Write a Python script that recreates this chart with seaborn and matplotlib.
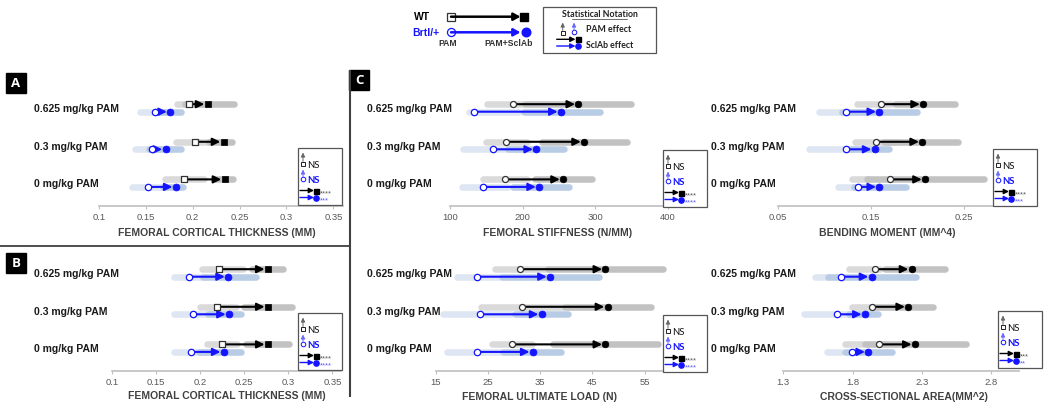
import numpy as np
import pandas as pd
import matplotlib
matplotlib.use("Agg")
import matplotlib.pyplot as plt
import seaborn as sns
from matplotlib import transforms
from matplotlib.patches import Rectangle

sns.set_theme(style="white")
plt.rcParams['font.family'] = ['Liberation Sans', 'DejaVu Sans']

# ---------------- data ----------------
doses = ["0.625 mg/kg PAM", "0.3 mg/kg PAM", "0 mg/kg PAM"]

# means per dose: [PAM, PAM+SclAb]; ranges per dose: [PAM lo, PAM hi, SclAb lo, SclAb hi]
A_wt_mean = [[0.196, 0.216], [0.202, 0.233], [0.191, 0.234]]
A_brtl_mean = [[0.160, 0.176], [0.157, 0.171], [0.152, 0.182]]
A_wt_rng = [[0.180, 0.214, 0.188, 0.248], [0.179, 0.226, 0.214, 0.245], [0.167, 0.215, 0.219, 0.246]]
A_brtl_rng = [[0.140, 0.180, 0.160, 0.191], [0.135, 0.180, 0.150, 0.191], [0.132, 0.172, 0.165, 0.193]]

B_wt_mean = [[0.221, 0.277], [0.219, 0.277], [0.225, 0.277]]
B_brtl_mean = [[0.188, 0.232], [0.192, 0.233], [0.190, 0.227]]
B_wt_rng = [[0.199, 0.252, 0.255, 0.298], [0.196, 0.244, 0.246, 0.308], [0.204, 0.246, 0.249, 0.304]]
B_brtl_rng = [[0.167, 0.212, 0.200, 0.267], [0.167, 0.215, 0.205, 0.250], [0.167, 0.210, 0.195, 0.250]]

S_wt_mean = [[187, 277], [177, 285], [176, 256]]
S_brtl_mean = [[133, 253], [159, 219], [145, 223]]
S_wt_rng = [[146, 205, 199, 354], [145, 210, 222, 348], [141, 210, 213, 300]]
S_brtl_rng = [[122, 200, 197, 311], [114, 200, 176, 261], [112, 185, 183, 268]]

M_wt_mean = [[0.161, 0.206], [0.155, 0.205], [0.170, 0.208]]
M_brtl_mean = [[0.123, 0.159], [0.123, 0.154], [0.136, 0.159]]
M_wt_rng = [[0.131, 0.175, 0.172, 0.244], [0.129, 0.180, 0.160, 0.247], [0.126, 0.150, 0.142, 0.275]]
M_brtl_rng = [[0.091, 0.130, 0.115, 0.203], [0.080, 0.140, 0.120, 0.173], [0.111, 0.135, 0.128, 0.191]]

U_wt_mean = [[31.1, 47.5], [31.5, 47.9], [29.7, 47.5]]
U_brtl_mean = [[23.0, 36.9], [23.4, 35.3], [22.9, 33.6]]
U_wt_rng = [[25.7, 37.0, 35.9, 59.1], [23.0, 40.0, 39.1, 56.8], [25.1, 34.0, 36.8, 58.1]]
U_brtl_rng = [[18.4, 28.0, 27.0, 46.8], [15.7, 30.0, 29.5, 41.0], [16.6, 28.0, 27.3, 39.6]]

C_wt_mean = [[1.962, 2.227], [1.943, 2.203], [1.991, 2.251]]
C_brtl_mean = [[1.714, 1.938], [1.688, 1.890], [1.794, 1.914]]
C_wt_rng = [[1.750, 2.020, 2.010, 2.492], [1.770, 1.960, 1.926, 2.408], [1.721, 1.900, 1.866, 2.644]]
C_brtl_rng = [[1.505, 1.650, 1.601, 2.280], [1.428, 1.850, 1.750, 2.010], [1.589, 1.740, 1.721, 2.107]]

A_ticks = [0.1, 0.15, 0.2, 0.25, 0.3, 0.35]
S_ticks = [100, 200, 300, 400]
M_ticks = [0.05, 0.15, 0.25]
U_ticks = [15, 25, 35, 45, 55]
C_ticks = [1.3, 1.8, 2.3, 2.8]

# ---------------- layout / style ----------------
W, H, DPI = 1045, 417, 100
ROW = 37.6
BLACK, BLUE = "#000000", "#1414ff"
GRAY_L, GRAY_D = "#dadada", "#c2c2c2"
BLUE_L, BLUE_M = "#dde6f2", "#b9cce5"
BAR_LW = 4.7

panels = [
    dict(wt=A_wt_mean, br=A_brtl_mean, wtr=A_wt_rng, brr=A_brtl_rng, ticks=A_ticks,
         labels=["0.1", "0.15", "0.2", "0.25", "0.3", "0.35"], xlim=(0.1, 0.36),
         left=99, right=342.7, axis_y=205.7, lab_x=34, xl_x=216.7, xl_y=233.3,
         xlabel="FEMORAL CORTICAL THICKNESS (MM)", mk="s", box=(298, 148), stars=("****", "***")),
    dict(wt=B_wt_mean, br=B_brtl_mean, wtr=B_wt_rng, brr=B_brtl_rng, ticks=A_ticks,
         labels=["0.1", "0.15", "0.2", "0.25", "0.3", "0.35"], xlim=(0.1, 0.36),
         left=111.7, right=341.2, axis_y=370.7, lab_x=34, xl_x=226.7, xl_y=396,
         xlabel="FEMORAL CORTICAL THICKNESS (MM)", mk="s", box=(298, 313), stars=("****", "****")),
    dict(wt=S_wt_mean, br=S_brtl_mean, wtr=S_wt_rng, brr=S_brtl_rng, ticks=S_ticks,
         labels=["100", "200", "300", "400"], xlim=(100, 420),
         left=450, right=682.2, axis_y=205.7, lab_x=367, xl_x=557.5, xl_y=233.3,
         xlabel="FEMORAL STIFFNESS (N/MM)", mk="o", box=(663, 150), stars=("****", "****")),
    dict(wt=M_wt_mean, br=M_brtl_mean, wtr=M_wt_rng, brr=M_brtl_rng, ticks=M_ticks,
         labels=["0.05", "0.15", "0.25"], xlim=(0.05, 0.30),
         left=777.7, right=1011, axis_y=205.7, lab_x=711, xl_x=887.5, xl_y=233.3,
         xlabel="BENDING MOMENT (MM^4)", mk="o", box=(993, 149), stars=("****", "***")),
    dict(wt=U_wt_mean, br=U_brtl_mean, wtr=U_wt_rng, brr=U_brtl_rng, ticks=U_ticks,
         labels=["15", "25", "35", "45", "55"], xlim=(15, 60),
         left=435.7, right=670.8, axis_y=370.7, lab_x=367, xl_x=539.2, xl_y=396.7,
         xlabel="FEMORAL ULTIMATE LOAD (N)", mk="o", box=(663, 315), stars=("****", "****")),
    dict(wt=C_wt_mean, br=C_brtl_mean, wtr=C_wt_rng, brr=C_brtl_rng, ticks=C_ticks,
         labels=["1.3", "1.8", "2.3", "2.8"], xlim=(1.3, 3.0),
         left=783.3, right=1018.7, axis_y=370.7, lab_x=711, xl_x=904.2, xl_y=396.7,
         xlabel="CROSS-SECTIONAL AREA(MM^2)", mk="o", box=(998, 311), stars=("***", "**")),
]

fig = plt.figure(figsize=(W / DPI, H / DPI), dpi=DPI)
fig.patch.set_facecolor("white")

Y_BOT, Y_TOP = 2.6, -0.6


def panel_frame(p):
    rows = []
    for i, d in enumerate(doses):
        for geno, means, rng, off in (("WT", p["wt"], p["wtr"], -0.1),
                                      ("Brtl/+", p["br"], p["brr"], 0.1)):
            rows.append(dict(dose=d, geno=geno, treat="PAM", value=means[i][0],
                             lo=rng[i][0], hi=rng[i][1], y=i + off))
            rows.append(dict(dose=d, geno=geno, treat="PAM+SclAb", value=means[i][1],
                             lo=rng[i][2], hi=rng[i][3], y=i + off))
    return pd.DataFrame(rows)


for p in panels:
    hpx = (Y_BOT - Y_TOP) * ROW
    ax = fig.add_axes([p["left"] / W, 1 - p["axis_y"] / H,
                       (p["right"] - p["left"]) / W, hpx / H])
    df = panel_frame(p)
    ppu = (p["right"] - p["left"]) / (p["xlim"][1] - p["xlim"][0])
    cap = BAR_LW * DPI / 72 / 2 / ppu

    bar_col = {("WT", "PAM"): GRAY_L, ("WT", "PAM+SclAb"): GRAY_D,
               ("Brtl/+", "PAM"): BLUE_L, ("Brtl/+", "PAM+SclAb"): BLUE_M}
    for _, r in df.iterrows():
        z = 1 if r.treat == "PAM" else 1.5
        ax.plot([r.lo + cap, r.hi - cap], [r.y, r.y], color=bar_col[(r.geno, r.treat)],
                lw=BAR_LW, solid_capstyle="round", zorder=z)

    for geno, col in (("WT", BLACK), ("Brtl/+", BLUE)):
        sub = df[df.geno == geno]
        for d in doses:
            s = sub[sub.dose == d]
            x0 = s[s.treat == "PAM"].value.iloc[0]
            x1 = s[s.treat == "PAM+SclAb"].value.iloc[0]
            yy = s.y.iloc[0]
            ax.annotate("", xy=(x1, yy), xytext=(x0, yy), xycoords="data",
                        arrowprops=dict(arrowstyle="-|>,head_length=0.45,head_width=0.22",
                                        color=col, lw=1.5, shrinkA=2, shrinkB=2.4,
                                        mutation_scale=10), zorder=3)

    wt_mk = p["mk"]
    sns.scatterplot(data=df[(df.geno == "WT") & (df.treat == "PAM")], x="value", y="y",
                    marker=wt_mk, s=19, color="white", edgecolor="#333333", linewidth=0.9,
                    ax=ax, zorder=5, legend=False)
    sns.scatterplot(data=df[(df.geno == "WT") & (df.treat == "PAM+SclAb")], x="value", y="y",
                    marker=wt_mk, s=23, color=BLACK, edgecolor=BLACK, linewidth=0.5,
                    ax=ax, zorder=5, legend=False)
    sns.scatterplot(data=df[(df.geno == "Brtl/+") & (df.treat == "PAM")], x="value", y="y",
                    marker="o", s=21, color="white", edgecolor=BLUE, linewidth=0.9,
                    ax=ax, zorder=5, legend=False)
    sns.scatterplot(data=df[(df.geno == "Brtl/+") & (df.treat == "PAM+SclAb")], x="value", y="y",
                    marker="o", s=25, color=BLUE, edgecolor=BLUE, linewidth=0.5,
                    ax=ax, zorder=5, legend=False)

    ax.set_xlim(*p["xlim"])
    ax.set_ylim(Y_BOT, Y_TOP)
    ax.set_yticks([])
    ax.set_ylabel("")
    ax.set_xticks(p["ticks"])
    ax.set_xticklabels(p["labels"])
    ax.tick_params(axis="x", bottom=True, length=2, width=0.8, color="#bfbfbf", pad=3,
                   labelsize=6.8, labelcolor="#595959")
    for s in ("top", "right", "left"):
        ax.spines[s].set_visible(False)
    ax.spines["bottom"].set_color("#bfbfbf")
    ax.spines["bottom"].set_linewidth(1.2)
    ax.patch.set_visible(False)

    ax.set_xlabel(p["xlabel"], fontsize=7.5, fontweight="bold", color="#404040")
    ax.xaxis.label.set_va("center")
    ax.xaxis.set_label_coords((p["xl_x"] - p["left"]) / (p["right"] - p["left"]),
                              -(p["xl_y"] - p["axis_y"]) / hpx)

    trans = transforms.blended_transform_factory(fig.transFigure, ax.transData)
    for i, d in enumerate(doses):
        ax.text(p["lab_x"] / W, i + 0.03, d, transform=trans, ha="left", va="center",
                fontsize=7.5, fontweight="bold", color="#1a1a1a")

# ---------------- decorations (pixel overlay) ----------------
ov = fig.add_axes([0, 0, 1, 1], zorder=10)
ov.set_xlim(0, W)
ov.set_ylim(H, 0)
ov.axis("off")
ov.patch.set_visible(False)


def parrow(x0, y0, x1, y1, col, lw=0.9, hl=0.3, hw=0.15):
    ov.annotate("", xy=(x1, y1), xytext=(x0, y0),
                arrowprops=dict(arrowstyle=f"-|>,head_length={hl},head_width={hw}",
                                color=col, lw=lw, shrinkA=0, shrinkB=0, mutation_scale=10))


LEG_FONT = ["Lato", "DejaVu Sans"]
STAR_FONT = ["Liberation Sans", "DejaVu Sans"]


def stat_box(bx, by, stars):
    ov.add_patch(Rectangle((bx, by), 44, 57, facecolor="white", edgecolor="#555555", lw=0.9, zorder=1))
    parrow(bx + 5, by + 13.5, bx + 5, by + 4.5, "#666666", lw=0.7, hl=0.25, hw=0.12)
    ov.plot(bx + 5, by + 15.5, marker="s", ms=3, mfc="white", mec="#222222", mew=0.7)
    ov.text(bx + 9.5, by + 17.5, "NS", fontsize=6.8, va="center", ha="left",
            color="#111111", family=LEG_FONT)
    parrow(bx + 5, by + 28.5, bx + 5, by + 21.5, "#6a6aff", lw=0.7, hl=0.25, hw=0.12)
    ov.plot(bx + 5, by + 30.5, marker="o", ms=3.3, mfc="white", mec=BLUE, mew=0.7)
    ov.text(bx + 9.5, by + 32.5, "NS", fontsize=6.8, va="center", ha="left",
            color=BLUE, fontweight="bold", family=LEG_FONT)
    parrow(bx + 2, by + 42.5, bx + 16, by + 42.5, BLACK, lw=1.0, hl=0.3, hw=0.15)
    ov.plot(bx + 18, by + 42.5, marker="s", ms=3.6, mfc=BLACK, mec=BLACK)
    ov.text(bx + 21.5, by + 45.6, stars[0], fontsize=5.5, va="center", ha="left",
            color="#555555", family=STAR_FONT)
    parrow(bx + 2, by + 49.5, bx + 16, by + 49.5, BLUE, lw=1.0, hl=0.3, hw=0.15)
    ov.plot(bx + 18, by + 49.5, marker="o", ms=3.8, mfc=BLUE, mec=BLUE)
    ov.text(bx + 21.5, by + 53.1, stars[1], fontsize=5.5, va="center", ha="left",
            color="#5a5aff", family=STAR_FONT)


for p in panels:
    stat_box(*p["box"], p["stars"])

# separators
ov.plot([350, 350], [70, 397], color="#404040", lw=1.5, solid_capstyle="butt")
ov.plot([0, 350], [245.7, 245.7], color="#404040", lw=1.3)

# panel letters
for lx, ly, lt in ((6, 73, "A"), (6, 253, "B"), (349, 70, "C")):
    ov.add_patch(Rectangle((lx, ly), 20, 20, facecolor="black", edgecolor="black"))
    ov.text(lx + 10, ly + 10.5, lt, color="white", fontsize=9.5, fontweight="bold",
            ha="center", va="center", family=["Open Sans", "DejaVu Sans"])

# top legend
ov.text(422.5, 17, "WT", fontsize=7.5, fontweight="bold", ha="center", va="center", color=BLACK)
ov.text(425.5, 32.5, "Brtl/+", fontsize=7.5, fontweight="bold", ha="center", va="center", color=BLUE)
parrow(451, 16.7, 520.5, 16.7, BLACK, lw=1.8, hl=0.4, hw=0.22)
ov.plot(451, 16.7, marker="s", ms=5.6, mfc="white", mec="#333333", mew=0.9)
ov.plot(524, 16.7, marker="s", ms=5.6, mfc=BLACK, mec=BLACK)
parrow(451, 32.3, 520.5, 32.3, BLUE, lw=1.8, hl=0.4, hw=0.22)
ov.plot(451, 32.3, marker="o", ms=5.8, mfc="white", mec=BLUE, mew=0.9)
ov.plot(525.5, 32.3, marker="o", ms=6.2, mfc=BLUE, mec=BLUE)
ov.text(448, 43.5, "PAM", fontsize=6.2, fontweight="bold", ha="center", va="center", color="#333333")
ov.text(509, 43.5, "PAM+SclAb", fontsize=6.2, fontweight="bold", ha="center", va="center", color="#333333")

ov.add_patch(Rectangle((543, 7), 113, 46, facecolor="white", edgecolor="#555555", lw=0.9))
ov.text(599.5, 14.5, "Statistical Notation", fontsize=6.3, fontweight="bold", ha="center",
        va="center", color="#222222", family=LEG_FONT)
ov.plot([572, 627], [19.3, 19.3], color="#555555", lw=0.6)
parrow(562.7, 30.5, 562.7, 22.5, "#666666", lw=0.7, hl=0.25, hw=0.12)
ov.plot(562.7, 32.5, marker="s", ms=3, mfc="white", mec="#222222", mew=0.7)
parrow(574, 30.0, 574, 22.5, "#6a6aff", lw=0.7, hl=0.25, hw=0.12)
ov.plot(574, 32.3, marker="o", ms=3.3, mfc="white", mec=BLUE, mew=0.7)
ov.text(586.5, 29, "PAM effect", fontsize=6.3, fontweight="bold", ha="left", va="center",
        color="#222222", family=LEG_FONT)
parrow(556.7, 39.3, 575.5, 39.3, BLACK, lw=1.0, hl=0.3, hw=0.15)
ov.plot(577.5, 39.3, marker="s", ms=3.6, mfc=BLACK, mec=BLACK)
parrow(556.7, 46, 575.5, 46, BLUE, lw=1.0, hl=0.3, hw=0.15)
ov.plot(577.5, 46, marker="o", ms=3.8, mfc=BLUE, mec=BLUE)
ov.text(586.5, 45, "SclAb effect", fontsize=6.3, fontweight="bold", ha="left", va="center",
        color="#222222", family=LEG_FONT)

fig.savefig("out.png", dpi=DPI, facecolor="white")
